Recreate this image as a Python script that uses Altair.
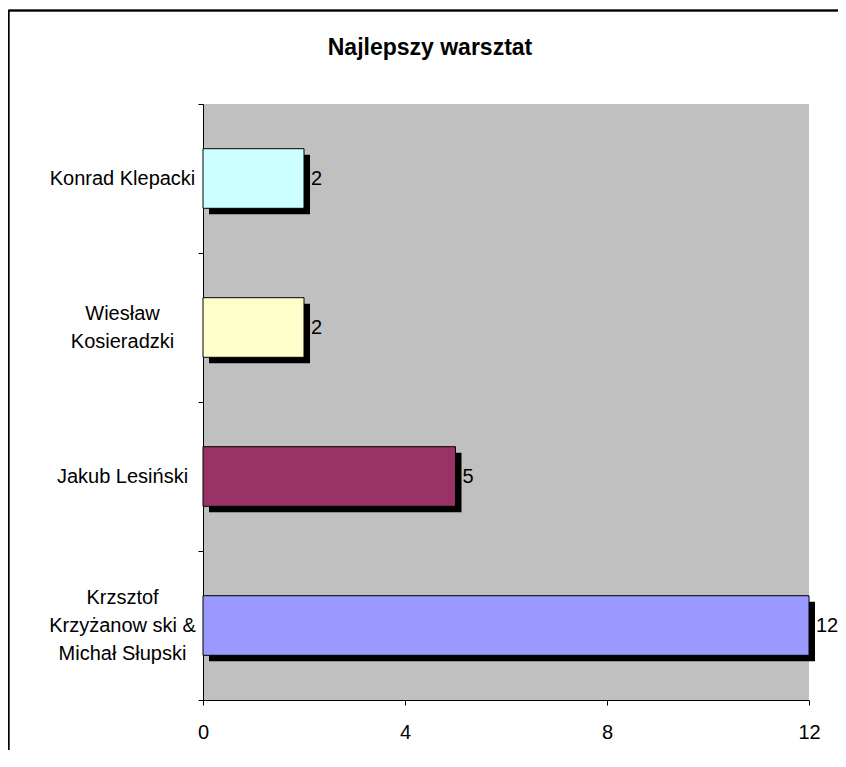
import altair as alt
import pandas as pd

# --- data ---
categories = ["Konrad Klepacki", "Wiesław|Kosieradzki", "Jakub Lesiński",
              "Krzsztof|Krzyżanow ski &|Michał Słupski"]
values = [2, 2, 5, 12]
colors = ["#CCFFFF", "#FFFFCC", "#993366", "#9999FF"]
x_ticks = [0, 4, 8, 12]
title_text = "Najlepszy warsztat"

df = pd.DataFrame({"name": categories, "value": values, "color": colors})

FONT = "Liberation Sans"

x_enc = alt.X("value:Q", scale=alt.Scale(domain=[0, 12], nice=False, zero=True),
              axis=alt.Axis(values=x_ticks, title=None, grid=False, tickSize=5,
                            labelPadding=17, labelFontSize=20, labelColor="black",
                            labelFont=FONT, domainColor="black", tickColor="black",
                            labelFlush=False))
y_enc = alt.Y("name:N", sort=categories,
              scale=alt.Scale(paddingInner=0, paddingOuter=0),
              axis=alt.Axis(title=None, tickBand="extent", tickSize=5,
                            labelAlign="center", labelBaseline="middle",
                            labelPadding=76, labelFontSize=20, labelLineHeight=28,
                            labelOffset=alt.ExprRef("-(length(split(datum.label, '|')) - 1) * 14"),
                            labelColor="black", labelFont=FONT,
                            labelExpr="split(datum.label, '|')",
                            domainColor="black", tickColor="black", grid=False))

band = alt.RelativeBandSize(0.4)
shadow = alt.Chart(df).mark_bar(color="black", height=band, xOffset=6, x2Offset=6,
                                yOffset=6, y2Offset=6).encode(x=x_enc, y=y_enc)
bars = alt.Chart(df).mark_bar(stroke="black", strokeWidth=1, height=band).encode(
    x=x_enc, y=y_enc,
    color=alt.Color("color:N", scale=None))
labels = alt.Chart(df).mark_text(align="left", baseline="middle", dx=7,
                                 fontSize=20, font=FONT, color="black").encode(
    x="value:Q", y=alt.Y("name:N", sort=categories), text="value:Q")

frame_top = alt.Chart(df).mark_rule(color="black", strokeWidth=1.5).encode(
    x=alt.value(-194.5), x2=alt.value(660), y=alt.value(-93.5))
frame_left = alt.Chart(df).mark_rule(color="black", strokeWidth=1.5).encode(
    x=alt.value(-194.5), y=alt.value(-93.5), y2=alt.value(660))

chart = alt.layer(frame_top, frame_left, shadow, bars, labels).properties(
    width=606, height=596,
    title=alt.Title(title_text, anchor="middle", dx=-76, offset=-50.5,
                    fontSize=23, font=FONT, fontWeight="bold", color="black"),
    autosize=alt.AutoSizeParams(type="none"),
    padding={"left": 195, "top": 96, "right": 29, "bottom": 50},
).configure_view(fill="#C0C0C0", stroke=None)

chart.save("out.html", embed_options={"renderer": "svg", "actions": False})
